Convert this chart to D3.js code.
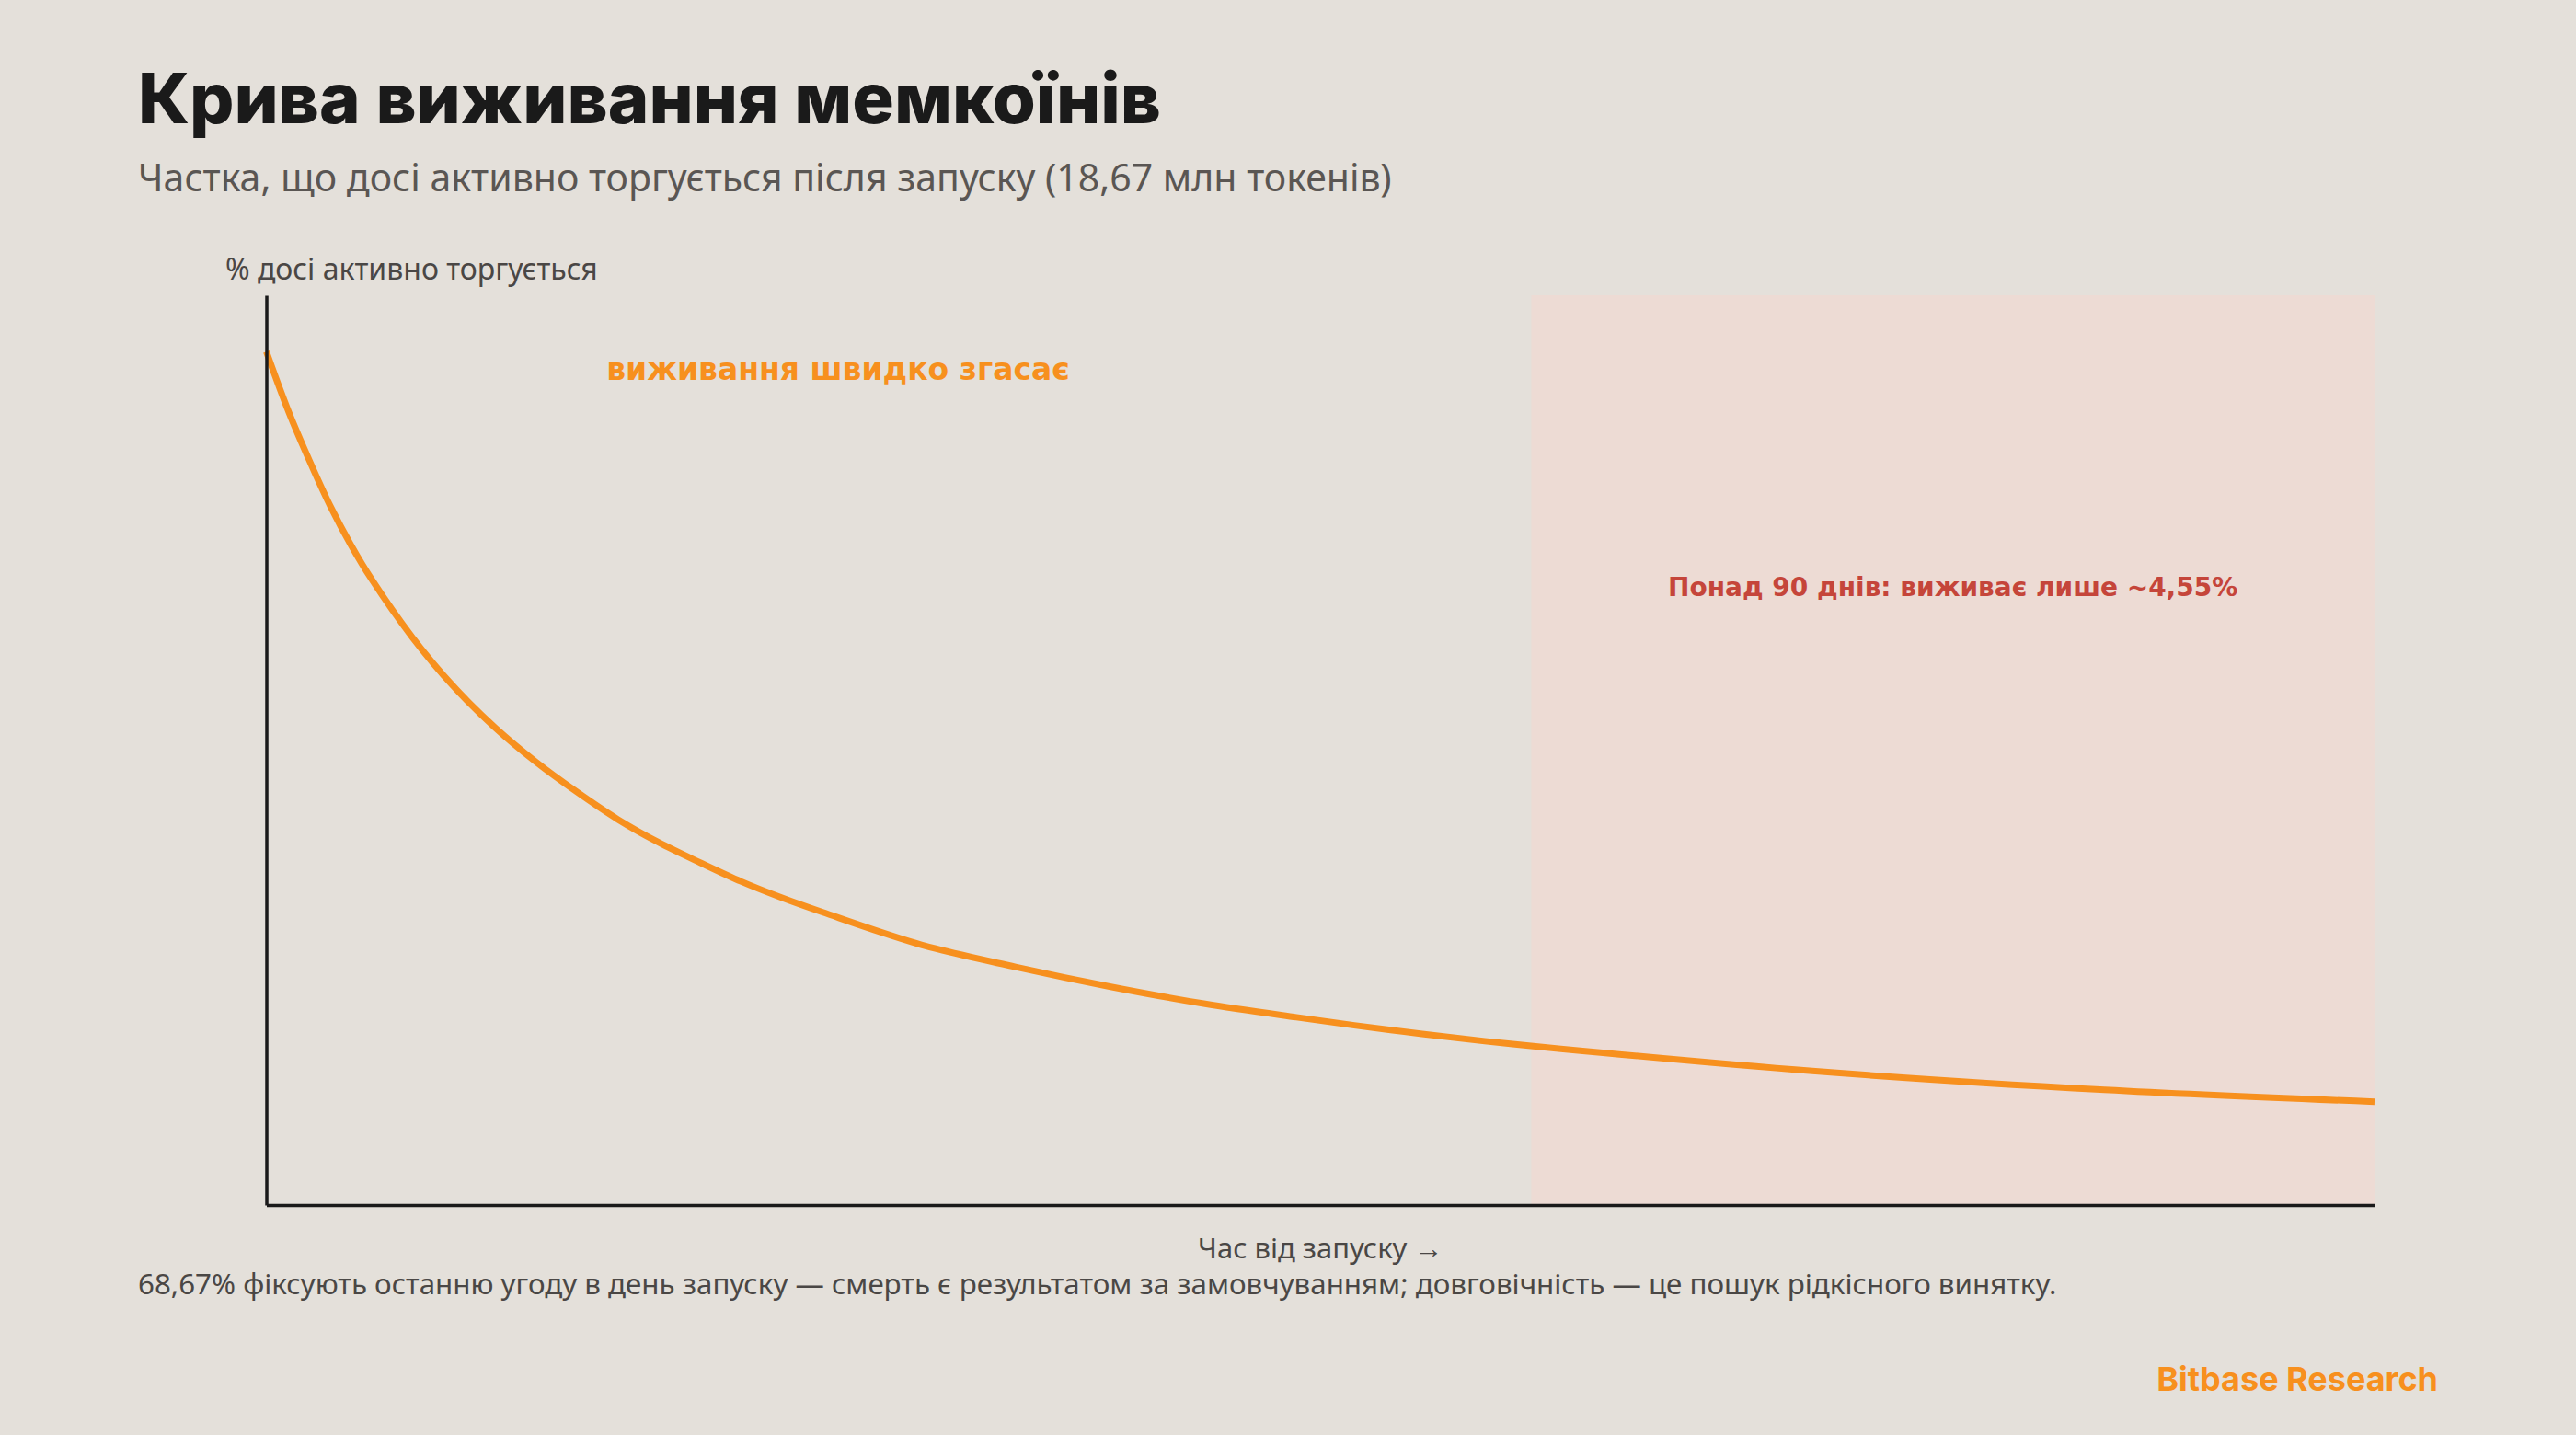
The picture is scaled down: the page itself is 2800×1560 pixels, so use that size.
<!DOCTYPE html>
<html>
<head>
<meta charset="utf-8">
<script src="https://cdn.jsdelivr.net/npm/d3@7"></script>
<style>
  html, body { margin: 0; padding: 0; background: #e4e0da; }
  svg { display: block; }
</style>
</head>
<body>
<svg id="chart" width="2800" height="1560"></svg>
<script>
'use strict'

// days since launch
const days = [0, 1.6, 3.1, 4.55, 6, 7.5, 10.4, 13.3, 16.3, 19.2, 22.1, 25, 27.9, 30.9, 33.8, 36.7, 39.6,
  46.6, 53.3, 60, 66.7, 73.3, 80, 86.7, 92.1, 110, 130.8, 150]
// share still active (%)
const active = [100, 92.9, 87.1, 81.9, 77.4, 73.3, 66.5, 60.8, 55.9, 51.9, 48.4, 45.2, 42.5, 40.1, 37.9, 36, 34.3,
  30.5, 27.9, 25.6, 23.6, 22, 20.5, 19.2, 18.3, 15.7, 13.5, 12.1]

const xDomain = [0, 150]
const yDomain = [0, 106.6]
const zoneStart = 90

const texts = {
  title: 'Крива виживання мемкоїнів',
  subtitle: 'Частка, що досі активно торгується після запуску (18,67 млн токенів)',
  yLabel: '% досі активно торгується',
  xLabel: 'Час від запуску →',
  fade: 'виживання швидко згасає',
  zone: 'Понад 90 днів: виживає лише ~4,55%',
  note: '68,67% фіксують останню угоду в день запуску — смерть є результатом за замовчуванням; довговічність — це пошук рідкісного винятку.',
  brand: 'Bitbase Research'
}

const svg = d3.select('#chart')
const margin = {left: 289.5, right: 2581, top: 321, bottom: 1310}

const x = d3.scaleLinear().domain(xDomain).range([margin.left, margin.right])
const y = d3.scaleLinear().domain(yDomain).range([margin.bottom, margin.top])

svg.append('rect')
  .attr('width', 2800).attr('height', 1560)
  .attr('fill', '#e4e0da')

// late-survivor zone
svg.append('rect')
  .attr('x', x(zoneStart))
  .attr('y', y(yDomain[1]))
  .attr('width', x(xDomain[1]) - x(zoneStart))
  .attr('height', y(0) - y(yDomain[1]))
  .attr('fill', '#eddbd4')

const data = days.map((d, i) => ({day: d, pct: active[i]}))

const line = d3.line()
  .x(d => x(d.day))
  .y(d => y(d.pct))
  .curve(d3.curveCatmullRom.alpha(0.5))

svg.append('path')
  .datum(data)
  .attr('d', line)
  .attr('fill', 'none')
  .attr('stroke', '#f7901e')
  .attr('stroke-width', 7)
  .attr('stroke-linejoin', 'round')

// axes: bare lines, no ticks
svg.append('g')
  .attr('transform', `translate(0,${y(0)})`)
  .call(d3.axisBottom(x).ticks(0).tickSizeOuter(0))
svg.append('g')
  .attr('transform', `translate(${x(0)},0)`)
  .call(d3.axisLeft(y).ticks(0).tickSizeOuter(0))
svg.selectAll('.domain')
  .attr('stroke', '#1a1a1a')
  .attr('stroke-width', 3.5)

svg.append('text')
  .attr('x', 150).attr('y', 134)
  .attr('font-family', 'Inter, sans-serif')
  .attr('font-weight', 800)
  .attr('font-size', 76)
  .attr('fill', '#1a1a1a')
  .text(texts.title)

svg.append('text')
  .attr('x', 150).attr('y', 208)
  .attr('font-family', '"Noto Sans", sans-serif')
  .attr('font-size', 41)
  .attr('fill', '#5a5653')
  .text(texts.subtitle)

svg.append('text')
  .attr('x', 245).attr('y', 304)
  .attr('font-family', '"Noto Sans", sans-serif')
  .attr('font-size', 32)
  .attr('fill', '#4a4745')
  .text(texts.yLabel)

svg.append('text')
  .attr('x', (margin.left + margin.right) / 2).attr('y', 1368)
  .attr('text-anchor', 'middle')
  .attr('font-family', '"Noto Sans", sans-serif')
  .attr('font-size', 31)
  .attr('fill', '#4a4745')
  .text(texts.xLabel)

svg.append('text')
  .attr('x', 911).attr('y', 413)
  .attr('text-anchor', 'middle')
  .attr('font-family', '"DejaVu Sans", sans-serif')
  .attr('font-weight', 700)
  .attr('font-size', 33)
  .attr('fill', '#f7901e')
  .text(texts.fade)

svg.append('text')
  .attr('x', (x(zoneStart) + x(xDomain[1])) / 2).attr('y', 648)
  .attr('text-anchor', 'middle')
  .attr('font-family', '"DejaVu Sans", sans-serif')
  .attr('font-weight', 700)
  .attr('font-size', 28)
  .attr('fill', '#c5453a')
  .text(texts.zone)

svg.append('text')
  .attr('x', 150).attr('y', 1407)
  .attr('font-family', '"Noto Sans", sans-serif')
  .attr('font-size', 31.3)
  .attr('fill', '#4a4745')
  .text(texts.note)

svg.append('text')
  .attr('x', 2650).attr('y', 1512)
  .attr('text-anchor', 'end')
  .attr('font-family', 'Inter, sans-serif')
  .attr('font-weight', 700)
  .attr('font-size', 36)
  .attr('fill', '#f7901e')
  .text(texts.brand)
</script>
</body>
</html>
